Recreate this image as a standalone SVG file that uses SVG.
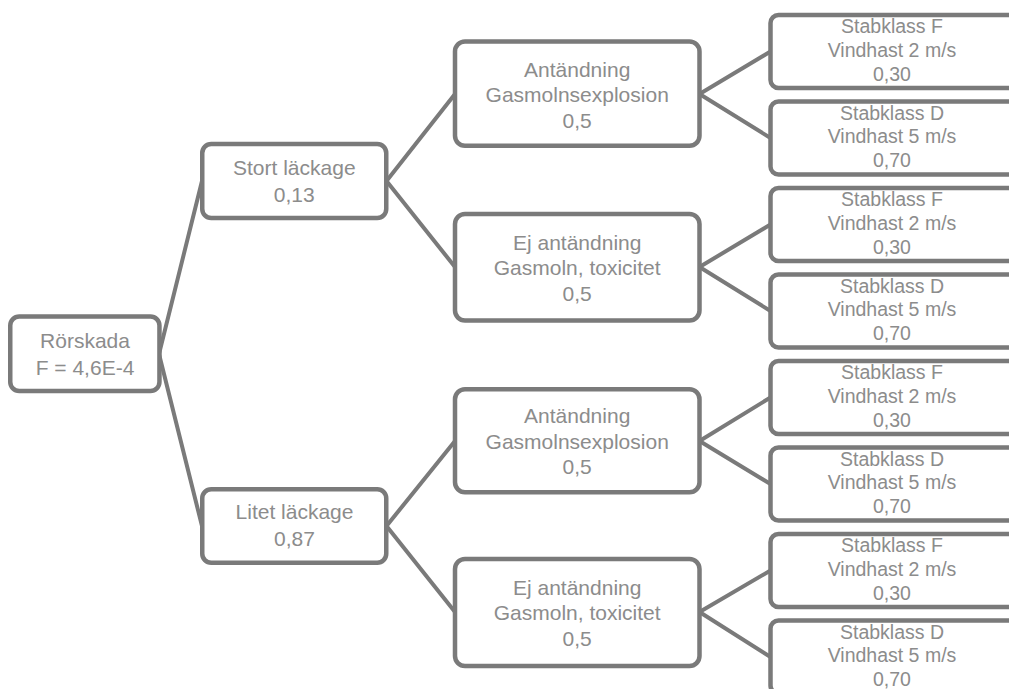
<svg xmlns="http://www.w3.org/2000/svg" width="1009" height="689" viewBox="0 0 1009 689">
<style>
.box{fill:#ffffff;stroke:#7a7a7a;stroke-width:4.5}
.ln{stroke:#7a7a7a;stroke-width:4;fill:none;stroke-linecap:round}
.t{font-family:"Liberation Sans",Arial,sans-serif;font-size:21px;fill:#8c8c8c;text-anchor:middle}
.tl{font-family:"Liberation Sans",Arial,sans-serif;font-size:19.5px;fill:#8c8c8c;text-anchor:middle}
</style>
<rect width="1009" height="689" fill="#ffffff"/>
<g id="connectors">
<line class="ln" x1="159" y1="354" x2="202" y2="181"/>
<line class="ln" x1="159" y1="354" x2="202" y2="526"/>
<line class="ln" x1="386.5" y1="181" x2="455" y2="94"/>
<line class="ln" x1="386.5" y1="181" x2="455" y2="267"/>
<line class="ln" x1="386.5" y1="526" x2="455" y2="441"/>
<line class="ln" x1="386.5" y1="526" x2="455" y2="612"/>
<line class="ln" x1="699.5" y1="94" x2="770.5" y2="51.5"/>
<line class="ln" x1="699.5" y1="94" x2="770.5" y2="138"/>
<line class="ln" x1="699.5" y1="267" x2="770.5" y2="224.5"/>
<line class="ln" x1="699.5" y1="267" x2="770.5" y2="311"/>
<line class="ln" x1="699.5" y1="441" x2="770.5" y2="397.5"/>
<line class="ln" x1="699.5" y1="441" x2="770.5" y2="484"/>
<line class="ln" x1="699.5" y1="612" x2="770.5" y2="570.5"/>
<line class="ln" x1="699.5" y1="612" x2="770.5" y2="657"/>
</g>
<g id="n-rorskada">
<rect class="box" x="10.25" y="316.5" width="149.2" height="74.6" rx="9"/>
<text class="t" x="85" y="348.3">Rörskada</text>
<text class="t" x="85" y="375">F = 4,6E-4</text>
</g>
<g id="n-stort">
<rect class="box" x="202.25" y="144" width="184" height="74" rx="9"/>
<text class="t" x="294.3" y="175">Stort läckage</text>
<text class="t" x="294.3" y="201.7">0,13</text>
</g>
<g id="n-litet">
<rect class="box" x="202.25" y="489.25" width="184" height="73.5" rx="9"/>
<text class="t" x="294.5" y="519.3">Litet läckage</text>
<text class="t" x="294.5" y="546">0,87</text>
</g>
<g id="n-ant1">
<rect class="box" x="455" y="41.5" width="244.5" height="104.3" rx="10"/>
<text class="t" x="577.2" y="76.5">Antändning</text>
<text class="t" x="577.2" y="102">Gasmolnsexplosion</text>
<text class="t" x="577.2" y="127.5">0,5</text>
</g>
<g id="n-ej1">
<rect class="box" x="455" y="214" width="244.5" height="106.5" rx="10"/>
<text class="t" x="577.2" y="249.5">Ej antändning</text>
<text class="t" x="577.2" y="275">Gasmoln, toxicitet</text>
<text class="t" x="577.2" y="300.5">0,5</text>
</g>
<g id="n-ant2">
<rect class="box" x="455" y="389.25" width="244.5" height="103" rx="10"/>
<text class="t" x="577.2" y="423">Antändning</text>
<text class="t" x="577.2" y="448.5">Gasmolnsexplosion</text>
<text class="t" x="577.2" y="474">0,5</text>
</g>
<g id="n-ej2">
<rect class="box" x="455" y="559" width="244.5" height="107" rx="10"/>
<text class="t" x="577.2" y="594.5">Ej antändning</text>
<text class="t" x="577.2" y="620">Gasmoln, toxicitet</text>
<text class="t" x="577.2" y="645.5">0,5</text>
</g>
<g id="leaf1">
<rect class="box" x="770.5" y="15" width="260" height="73" rx="8"/>
<text class="tl" x="892" y="33.2">Stabklass F</text>
<text class="tl" x="892" y="56.9">Vindhast 2 m/s</text>
<text class="tl" x="892" y="80.6">0,30</text>
</g>
<g id="leaf2">
<rect class="box" x="770.5" y="101.5" width="260" height="73" rx="8"/>
<text class="tl" x="892" y="119.7">Stabklass D</text>
<text class="tl" x="892" y="143.4">Vindhast 5 m/s</text>
<text class="tl" x="892" y="167.1">0,70</text>
</g>
<g id="leaf3">
<rect class="box" x="770.5" y="188" width="260" height="73" rx="8"/>
<text class="tl" x="892" y="206.2">Stabklass F</text>
<text class="tl" x="892" y="229.9">Vindhast 2 m/s</text>
<text class="tl" x="892" y="253.6">0,30</text>
</g>
<g id="leaf4">
<rect class="box" x="770.5" y="274.5" width="260" height="73" rx="8"/>
<text class="tl" x="892" y="292.7">Stabklass D</text>
<text class="tl" x="892" y="316.4">Vindhast 5 m/s</text>
<text class="tl" x="892" y="340.1">0,70</text>
</g>
<g id="leaf5">
<rect class="box" x="770.5" y="361" width="260" height="73" rx="8"/>
<text class="tl" x="892" y="379.2">Stabklass F</text>
<text class="tl" x="892" y="402.9">Vindhast 2 m/s</text>
<text class="tl" x="892" y="426.6">0,30</text>
</g>
<g id="leaf6">
<rect class="box" x="770.5" y="447.5" width="260" height="73" rx="8"/>
<text class="tl" x="892" y="465.7">Stabklass D</text>
<text class="tl" x="892" y="489.4">Vindhast 5 m/s</text>
<text class="tl" x="892" y="513.1">0,70</text>
</g>
<g id="leaf7">
<rect class="box" x="770.5" y="534" width="260" height="73" rx="8"/>
<text class="tl" x="892" y="552.2">Stabklass F</text>
<text class="tl" x="892" y="575.9">Vindhast 2 m/s</text>
<text class="tl" x="892" y="599.6">0,30</text>
</g>
<g id="leaf8">
<rect class="box" x="770.5" y="620.5" width="260" height="73" rx="8"/>
<text class="tl" x="892" y="638.7">Stabklass D</text>
<text class="tl" x="892" y="662.4">Vindhast 5 m/s</text>
<text class="tl" x="892" y="686.1">0,70</text>
</g>
</svg>
